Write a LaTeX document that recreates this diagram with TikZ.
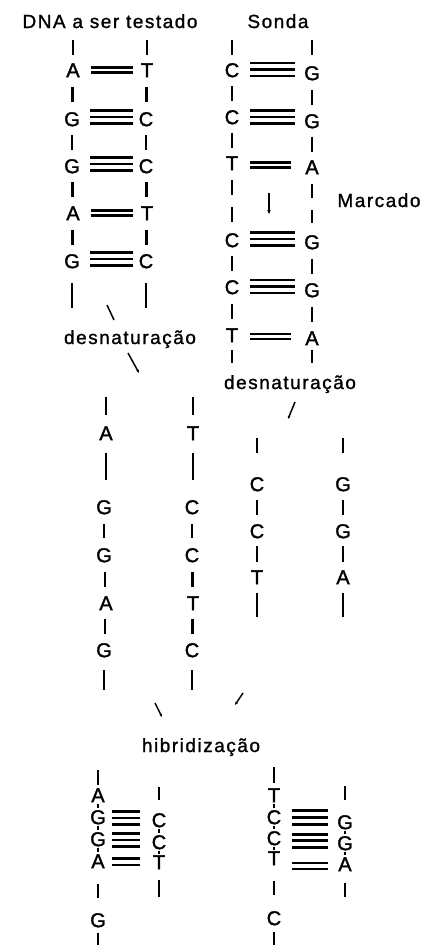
\documentclass[tikz,border=0pt]{standalone}
\usepackage{fontspec}
\setmainfont{Liberation Sans}[FakeBold=1.6]
\newfontfamily\labfont{Liberation Sans}[LetterSpace=8,FakeBold=1.2]
\usetikzlibrary{calc,arrows.meta}

\tikzset{
  base/.style={inner sep=0pt, text height=14.3pt, text depth=0pt, font=\fontsize{20}{23}\selectfont},
  lbl/.style={inner sep=0pt, anchor=base, font=\labfont\fontsize{19}{22}\selectfont},
  strand/.style={line width=2.2pt},
  hb/.style={line width=2.1pt},
  pointer/.style={line width=1.5pt},
  tipped/.style={pointer, -{Latex[length=3pt,width=3pt]}},
}

% bar centred between two letters, of given length
\newcommand{\sbar}[3]{\draw[strand] ($(#1)!0.5!(#2)+(0,-#3/2)$) -- ($(#1)!0.5!(#2)+(0,#3/2)$);}
% bar at offsets (down positive) from a letter
\newcommand{\sbarfrom}[3]{\draw[strand] ($(#1)+(0,#2)$) -- ($(#1)+(0,#3)$);}
% hydrogen bond lines between two letters
\newcommand{\hbond}[5]{%
  \coordinate (hbL) at ($(#1)+(#3,0)$);
  \coordinate (hbR) at ($(#2)-(#4,0)$);
  \foreach \d in {#5}{%
    \coordinate (hbM) at ($(#1)!0.5!(#2)+(0,\d)$);
    \draw[hb] (hbL |- hbM) -- (hbR |- hbM);
  }}

\begin{document}
\begin{tikzpicture}[x=1pt,y=-1pt]
\path[use as bounding box] (0,0) rectangle (438,945);

% ---------- titles ----------
\node[lbl] (t1) at (110,28) {DNA a ser testado};
\node[lbl] (t2) at (278,28) {Sonda};

% ---------- DNA a ser testado (duplex) ----------
\node[base] (a1) at (73,70)  {A};
\node[base] (a2) at (72,119) {G};
\node[base] (a3) at (72,166) {G};
\node[base] (a4) at (73,213) {A};
\node[base] (a5) at (72,261) {G};
\node[base] (b1) at (147,70)  {T};
\node[base] (b2) at (146,119) {C};
\node[base] (b3) at (146,166) {C};
\node[base] (b4) at (147,213) {T};
\node[base] (b5) at (146,261) {C};
\sbarfrom{a1}{-30}{-15} \sbar{a1}{a2}{15} \sbar{a2}{a3}{15} \sbar{a3}{a4}{15} \sbar{a4}{a5}{15} \sbarfrom{a5}{22}{47}
\sbarfrom{b1}{-30}{-15} \sbar{b1}{b2}{15} \sbar{b2}{b3}{15} \sbar{b3}{b4}{15} \sbar{b4}{b5}{15} \sbarfrom{b5}{22}{47}
\hbond{a1}{b1}{18}{14}{-2.5,2.5}
\hbond{a2}{b2}{18}{13}{-8.5,-2,4.5}
\hbond{a3}{b3}{18}{13}{-8.5,-2,4.5}
\hbond{a4}{b4}{18}{14}{-2.5,2.5}
\hbond{a5}{b5}{18}{13}{-8.5,-2,4.5}

% ---------- Sonda (duplex) ----------
\node[base] (c1) at (232,70)  {C};
\node[base] (c2) at (232,117) {C};
\node[base] (c3) at (232,163) {T};
\node[base] (c4) at (232,240) {C};
\node[base] (c5) at (232,287) {C};
\node[base] (c6) at (232,335) {T};
\node[base] (d1) at (312,73)  {G};
\node[base] (d2) at (312,121) {G};
\node[base] (d3) at (312,167) {A};
\node[base] (d4) at (312,242) {G};
\node[base] (d5) at (312,290) {G};
\node[base] (d6) at (312,338) {A};
\sbarfrom{c1}{-30}{-15} \sbar{c1}{c2}{15} \sbar{c2}{c3}{15}
\sbarfrom{c3}{17}{32} \sbarfrom{c3}{44}{59}
\sbar{c4}{c5}{15} \sbar{c5}{c6}{15} \sbarfrom{c6}{15}{28}
\sbarfrom{d1}{-33}{-18} \sbar{d1}{d2}{15} \sbar{d2}{d3}{15}
\sbarfrom{d3}{17}{31} \sbarfrom{d3}{43}{56}
\sbar{d4}{d5}{15} \sbar{d5}{d6}{15} \sbarfrom{d6}{12}{25}
\hbond{c1}{d1}{18}{17}{-8.5,-2,4.5}
\hbond{c2}{d2}{18}{17}{-8.5,-2,4.5}
\hbond{c3}{d3}{18}{21}{-2.5,2.5}
\hbond{c4}{d4}{18}{17}{-8.5,-2,4.5}
\hbond{c5}{d5}{18}{17}{-8.5,-2,4.5}
\hbond{c6}{d6}{18}{21}{-2.5,2.5}

% marker arrow and label
\coordinate (mk1) at (269,193);
\coordinate (mk2) at (269,214);
\draw[pointer,-{Stealth[length=4pt,width=3.5pt]}] (mk1) -- (mk2);
\node[lbl] (mc) at (379,207) {Marcado};

% ---------- first denaturation ----------
\node[lbl] (dn1) at (130,344) {desnaturação};
\coordinate (s1a) at (107,305); \coordinate (s1b) at (114,320);
\coordinate (s2a) at (128,353); \coordinate (s2b) at (139,373);
\draw[pointer] (s1a) -- (s1b);
\draw[tipped] (s2a) -- (s2b);

% ---------- second denaturation ----------
\node[lbl] (dn2) at (290,389) {desnaturação};
\coordinate (s3a) at (295,402); \coordinate (s3b) at (288,419);
\draw[tipped] (s3a) -- (s3b);

% ---------- single strands of tested DNA ----------
\node[base] (e1) at (106,433) {A};
\node[base] (e2) at (104,507) {G};
\node[base] (e3) at (104,555) {G};
\node[base] (e4) at (106,603) {A};
\node[base] (e5) at (104,650) {G};
\node[base] (f1) at (193,433) {T};
\node[base] (f2) at (192,507) {C};
\node[base] (f3) at (192,555) {C};
\node[base] (f4) at (193,603) {T};
\node[base] (f5) at (192,650) {C};
\sbarfrom{e1}{-36}{-18} \sbarfrom{e1}{20}{47} \sbar{e2}{e3}{14} \sbar{e3}{e4}{15} \sbar{e4}{e5}{15} \sbarfrom{e5}{20}{40}
\sbarfrom{f1}{-36}{-18} \sbarfrom{f1}{20}{47} \sbar{f2}{f3}{14} \sbar{f3}{f4}{15} \sbar{f4}{f5}{15} \sbarfrom{f5}{20}{40}

% ---------- single strands of probe ----------
\node[base] (g1) at (257,484) {C};
\node[base] (g2) at (257,531) {C};
\node[base] (g3) at (257,577) {T};
\node[base] (h1) at (343,484) {G};
\node[base] (h2) at (343,531) {G};
\node[base] (h3) at (343,577) {A};
\sbarfrom{g1}{-46}{-31} \sbar{g1}{g2}{15} \sbar{g2}{g3}{16} \sbarfrom{g3}{16}{40}
\sbarfrom{h1}{-46}{-31} \sbar{h1}{h2}{15} \sbar{h2}{h3}{16} \sbarfrom{h3}{16}{40}

% ---------- hybridisation ----------
\coordinate (s4a) at (155,703); \coordinate (s4b) at (162,717);
\coordinate (s5a) at (243,693); \coordinate (s5b) at (235,705);
\draw[tipped] (s4a) -- (s4b);
\draw[tipped] (s5a) -- (s5b);
\node[lbl] (hy) at (201,752) {hibridização};

% bottom-left hybrid
\node[base] (i1) at (98,795) {A};
\node[base] (i2) at (98,817) {G};
\node[base] (i3) at (98,839) {G};
\node[base] (i4) at (98,861) {A};
\node[base] (i5) at (98,920) {G};
\node[base] (j1) at (159,820) {C};
\node[base] (j2) at (159,842) {C};
\node[base] (j3) at (159,862) {T};
\sbarfrom{i1}{-25}{-10} \sbar{i1}{i2}{4} \sbar{i2}{i3}{4} \sbar{i3}{i4}{4} \sbar{i4}{i5}{14} \sbarfrom{i5}{13}{26}
\sbarfrom{j1}{-33}{-20} \sbar{j1}{j2}{4} \sbar{j2}{j3}{3} \sbarfrom{j3}{18}{35}
\hbond{i2}{j1}{14}{19}{-7,-0.5,6}
\hbond{i3}{j2}{14}{19}{-7,-0.5,6}
\hbond{i4}{j3}{14}{19}{-3,3.5}

% bottom-right hybrid
\node[base] (k1) at (274,795) {T};
\node[base] (k2) at (274,817) {C};
\node[base] (k3) at (274,838) {C};
\node[base] (k4) at (274,858) {T};
\node[base] (k5) at (274,918) {C};
\node[base] (l1) at (345,822) {G};
\node[base] (l2) at (345,843) {G};
\node[base] (l3) at (345,864) {A};
\sbarfrom{k1}{-28}{-12} \sbar{k1}{k2}{4} \sbar{k2}{k3}{3} \sbar{k3}{k4}{3} \sbar{k4}{k5}{14} \sbarfrom{k5}{14}{27}
\sbarfrom{l1}{-36}{-22} \sbar{l1}{l2}{3} \sbar{l2}{l3}{3} \sbarfrom{l3}{19}{33}
\hbond{k2}{l1}{18}{17}{-9,-2,5}
\hbond{k3}{l2}{18}{17}{-6,0,7}
\hbond{k4}{l3}{18}{17}{2,8}
\end{tikzpicture}
\end{document}
